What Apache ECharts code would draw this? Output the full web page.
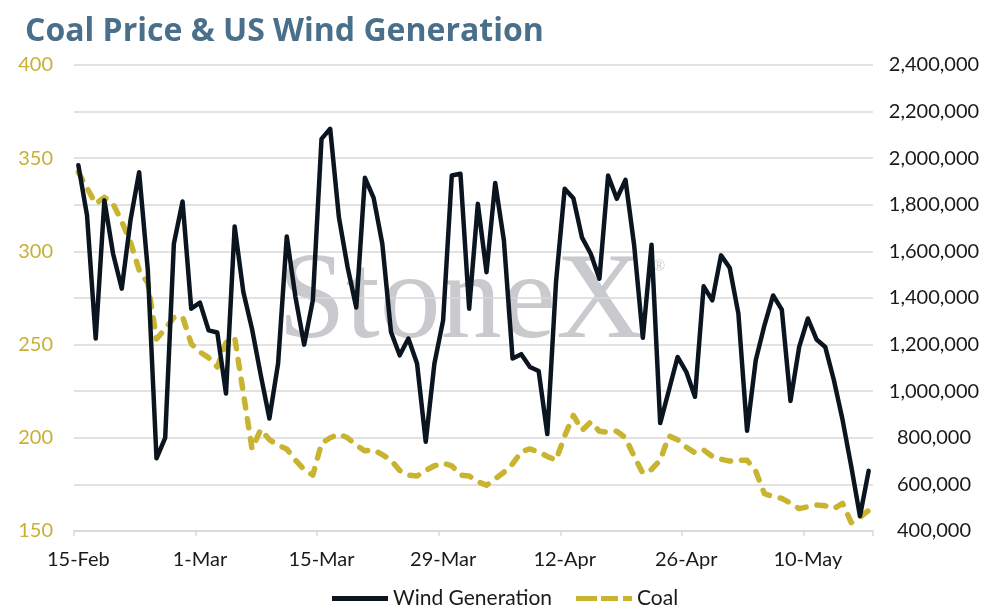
<!DOCTYPE html>
<html>
<head>
<meta charset="utf-8">
<script src="https://cdn.jsdelivr.net/npm/echarts@6/dist/echarts.min.js"></script>
<style>
html,body{margin:0;padding:0;background:#fff;}
#chart{width:995px;height:614px;}
</style>
</head>
<body>
<div id="chart"></div>
<script>
var categories = [
"15-Feb","16-Feb","17-Feb","18-Feb","19-Feb","20-Feb","21-Feb","22-Feb","23-Feb","24-Feb","25-Feb","26-Feb","27-Feb","28-Feb",
"1-Mar","2-Mar","3-Mar","4-Mar","5-Mar","6-Mar","7-Mar","8-Mar","9-Mar","10-Mar","11-Mar","12-Mar","13-Mar","14-Mar",
"15-Mar","16-Mar","17-Mar","18-Mar","19-Mar","20-Mar","21-Mar","22-Mar","23-Mar","24-Mar","25-Mar","26-Mar","27-Mar","28-Mar",
"29-Mar","30-Mar","31-Mar","1-Apr","2-Apr","3-Apr","4-Apr","5-Apr","6-Apr","7-Apr","8-Apr","9-Apr","10-Apr","11-Apr",
"12-Apr","13-Apr","14-Apr","15-Apr","16-Apr","17-Apr","18-Apr","19-Apr","20-Apr","21-Apr","22-Apr","23-Apr","24-Apr","25-Apr",
"26-Apr","27-Apr","28-Apr","29-Apr","30-Apr","1-May","2-May","3-May","4-May","5-May","6-May","7-May","8-May","9-May",
"10-May","11-May","12-May","13-May","14-May","15-May","16-May","17-May"
];

var windGeneration = [
1970000,1755000,1226000,1819000,1590000,1440000,1733000,1940000,1520000,712000,
800000,1633000,1814000,1354000,1380000,1261000,1252000,990000,1707000,1426000,
1267000,1070000,883000,1119000,1664000,1404000,1200000,1390000,2083000,2126000,
1747000,1533000,1359000,1916000,1830000,1633000,1254000,1154000,1226000,1119000,
783000,1119000,1304000,1926000,1933000,1354000,1804000,1511000,1894000,1647000,
1140000,1159000,1104000,1087000,816000,1468000,1869000,1828000,1659000,1590000,
1483000,1926000,1826000,1907000,1626000,1229000,1629000,863000,1004000,1147000,
1083000,976000,1450000,1390000,1583000,1530000,1333000,830000,1133000,1283000,
1411000,1350000,958000,1190000,1312000,1222000,1190000,1047000,876000,676000,
464000,658000
];

var coalPrice = [
342.5,334,325.5,329,325.5,316,305,290,283,253,
258.5,264.5,265,250.5,246,243,238,251,254,224,
194,204.5,199,196,194,188,183,180,197,200,
202,200,196,193,193.5,191,188,182.5,180,179.5,
182.5,185,186.5,185,180,179.5,176.5,174.5,178,181.5,
186,192.5,194,192.5,190,188,201,212,204,208.5,
203.5,203,203.5,200,190,181,183,188,201,199,
195,192,193.5,190,188.5,187.5,188,188,182,170,
168.5,167.5,165,162,163,164,163.5,162,164.8,154.5,
157.5,161
];

var leftTicks = {min:150, max:400, interval:50};
var rightTicks = {min:400000, max:2400000, interval:200000};

var FONT = 'Lato';
var WIND_COLOR = '#0b1520';
var COAL_COLOR = '#c9b431';
var chart = echarts.init(document.getElementById('chart'), null, {renderer:'canvas'});
chart.setOption({
  animation:false,
  backgroundColor:'#ffffff',
  title:{
    text:'Coal Price & US Wind Generation',
    left:20, top:11,
    textStyle:{fontFamily:'Open Sans', fontWeight:'bold', fontSize:32, color:'#4a6f8a'}
  },
  graphic:[
    {type:'text', left:278, top:244, z:0, silent:true,
     style:{text:'StoneX', font:'122px "Liberation Serif"', fill:'#c9cacd'}},
    {type:'text', left:653, top:259, z:0, silent:true,
     style:{text:'®', font:'16px "Liberation Serif"', fill:'#c9cacd'}}
  ],
  legend:{
    top:583, left:327,
    itemWidth:56, itemHeight:5, itemGap:24,
    textStyle:{fontFamily:FONT, fontSize:21, color:'#1a1a1a'},
    data:[
      {name:'Wind Generation', icon:'path://M0,0h56v5h-56z'},
      {name:'Coal', icon:'path://M0,0h21v5h-21z M25,0h17v5h-17z M47,0h9v5h-9z'}
    ]
  },
  grid:{left:74, right:122, top:65, bottom:83},
  xAxis:{
    type:'category', data:categories, boundaryGap:true,
    axisLine:{lineStyle:{color:'#d9d9d9', width:1.5}},
    axisTick:{show:true, interval:13, length:5, lineStyle:{color:'#d9d9d9', width:1.5}},
    axisLabel:{interval:13, margin:19, fontFamily:FONT, fontSize:20, color:'#1a1a1a'},
    splitLine:{show:false}
  },
  yAxis:[
    {type:'value', min:leftTicks.min, max:leftTicks.max, interval:leftTicks.interval, position:'left',
     axisLine:{show:false}, axisTick:{show:false}, splitLine:{show:false},
     axisLabel:{margin:21, fontFamily:FONT, fontSize:20, color:'#c8b035'}},
    {type:'value', min:rightTicks.min, max:rightTicks.max, interval:rightTicks.interval, position:'right',
     axisLine:{show:false}, axisTick:{show:false},
     splitLine:{show:true, lineStyle:{color:'#d9d9d9', width:1.5}},
     axisLabel:{margin:61, align:'center', fontFamily:FONT, fontSize:20, color:'#1a1a1a',
       formatter:function(v){return v.toLocaleString('en-US');}}}
  ],
  series:[
    {name:'Wind Generation', type:'line', yAxisIndex:1, data:windGeneration,
     symbol:'none', z:3,
     lineStyle:{color:WIND_COLOR, width:4.5, join:'round', cap:'round'},
     itemStyle:{color:WIND_COLOR}},
    {name:'Coal', type:'line', yAxisIndex:0, data:coalPrice,
     symbol:'none', z:2,
     lineStyle:{color:COAL_COLOR, width:5.5, type:[9,11], cap:'round', join:'round'},
     itemStyle:{color:COAL_COLOR}}
  ]
});
</script>
</body>
</html>
